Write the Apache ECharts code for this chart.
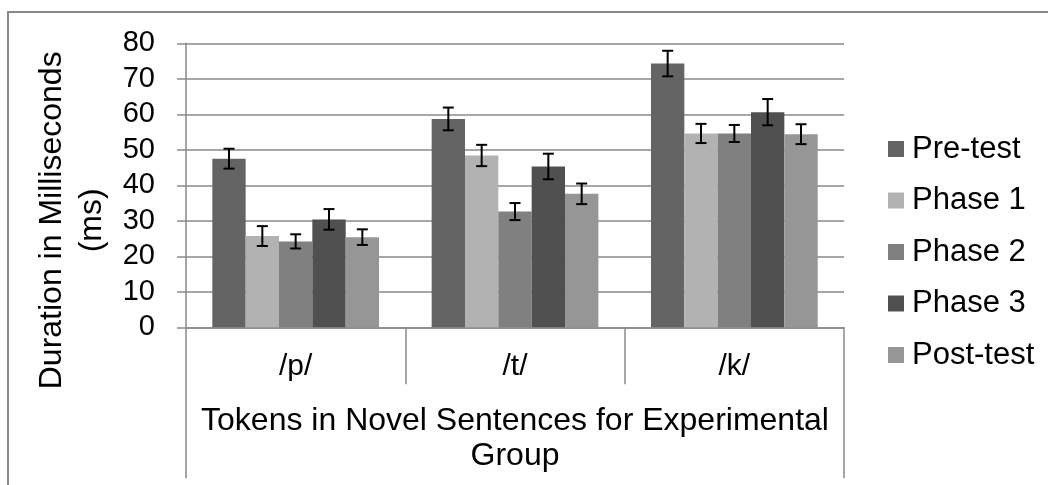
<!DOCTYPE html>
<html>
<head>
<meta charset="utf-8">
<script src="https://cdn.jsdelivr.net/npm/echarts@6/dist/echarts.min.js"></script>
<style>html,body{margin:0;padding:0;background:#fff}#c{width:1048px;height:485px}</style>
</head>
<body>
<div id="c"></div>
<script>
const categories = ['/p/', '/t/', '/k/'];
const groupLabel = ['Tokens in Novel Sentences for Experimental\nGroup'];
const seriesNames = ['Pre-test', 'Phase 1', 'Phase 2', 'Phase 3', 'Post-test'];
const preTest  = [47.5, 58.7, 74.3];
const phase1   = [25.7, 48.4, 54.6];
const phase2   = [24.2, 32.6, 54.6];
const phase3   = [30.4, 45.3, 60.6];
const postTest = [25.4, 37.6, 54.4];
const preTestErr  = [2.8, 3.2, 3.6];
const phase1Err   = [2.8, 3.0, 2.7];
const phase2Err   = [2.0, 2.4, 2.4];
const phase3Err   = [2.9, 3.6, 3.7];
const postTestErr = [2.2, 2.9, 2.8];
const yTicks = [0, 10, 20, 30, 40, 50, 60, 70, 80];

const values = [preTest, phase1, phase2, phase3, postTest];
const errors = [preTestErr, phase1Err, phase2Err, phase3Err, postTestErr];
const colors = ['#646464', '#b2b2b2', '#808080', '#505050', '#969696'];
const FONT = "'Liberation Sans', Arial, Helvetica, sans-serif";
const GRID_COLOR = '#8a8a8a';
const CAT_GAP = 0.24;

const chart = echarts.init(document.getElementById('c'), null, {renderer: 'canvas'});

const series = [];
seriesNames.forEach((name, k) => {
  series.push({
    name: name,
    type: 'bar',
    data: values[k],
    itemStyle: {color: colors[k]},
    barGap: '0%',
    barCategoryGap: (CAT_GAP * 100) + '%',
    z: 2
  });
});
seriesNames.forEach((name, k) => {
  series.push({
    name: 'err-' + name,
    type: 'custom',
    xAxisIndex: 0,
    z: 5,
    data: values[k].map((v, i) => [i, v - errors[k][i], v + errors[k][i]]),
    renderItem: function (params, api) {
      const ci = api.value(0);
      const lo = api.value(1), hi = api.value(2);
      const bw = api.size([1, 0])[0] * (1 - CAT_GAP) / seriesNames.length;
      const off = (k - (seriesNames.length - 1) / 2) * bw;
      const pTop = api.coord([ci, hi]);
      const pBot = api.coord([ci, lo]);
      const x = pTop[0] + off;
      const cap = 5.5;
      const style = {stroke: '#000', lineWidth: 2};
      return {
        type: 'group',
        children: [
          {type: 'line', shape: {x1: x, y1: pTop[1], x2: x, y2: pBot[1]}, style: style},
          {type: 'line', shape: {x1: x - cap, y1: pTop[1], x2: x + cap, y2: pTop[1]}, style: style},
          {type: 'line', shape: {x1: x - cap, y1: pBot[1], x2: x + cap, y2: pBot[1]}, style: style}
        ]
      };
    }
  });
});

chart.setOption({
  animation: false,
  backgroundColor: '#fff',
  textStyle: {fontFamily: FONT, color: '#000'},
  graphic: [{
    type: 'rect',
    shape: {x: 8, y: 12, width: 1200, height: 600},
    style: {fill: 'none', stroke: '#8a8a8a', lineWidth: 2},
    silent: true
  }],
  grid: {left: 186, right: 204, top: 43.3, bottom: 157.7, containLabel: false, outerBoundsMode: 'none'},
  legend: {
    data: seriesNames,
    orient: 'vertical',
    left: 888,
    top: 131,
    padding: 0,
    icon: 'rect',
    itemWidth: 16,
    itemHeight: 16,
    itemGap: 15.5,
    textStyle: {fontFamily: FONT, fontSize: 31, color: '#000', lineHeight: 36, padding: [0, 0, 0, 3]}
  },
  xAxis: [{
    type: 'category',
    data: categories,
    position: 'bottom',
    axisLine: {show: true, lineStyle: {color: GRID_COLOR, width: 1.5}},
    axisTick: {show: true, length: 57, alignWithLabel: false, lineStyle: {color: GRID_COLOR, width: 1.5}},
    axisLabel: {fontFamily: FONT, fontSize: 30, color: '#000', margin: 22, lineHeight: 34, interval: 0},
    splitLine: {show: false}
  }, {
    type: 'category',
    data: groupLabel,
    position: 'bottom',
    axisLine: {show: false},
    axisTick: {show: true, length: 151, alignWithLabel: false, lineStyle: {color: GRID_COLOR, width: 1.5}},
    axisLabel: {fontFamily: FONT, fontSize: 32, color: '#000', margin: 76, lineHeight: 35, interval: 0, align: 'center'},
    splitLine: {show: false}
  }],
  yAxis: {
    type: 'value',
    min: yTicks[0],
    max: yTicks[yTicks.length - 1],
    interval: yTicks[1] - yTicks[0],
    name: 'Duration in Milliseconds\n(ms)',
    nameLocation: 'middle',
    nameRotate: 90,
    nameGap: 68,
    nameTextStyle: {fontFamily: FONT, fontSize: 32, color: '#000', lineHeight: 40, padding: [0, 70, 0, 0]},
    axisLine: {show: true, lineStyle: {color: GRID_COLOR, width: 1.5}},
    axisTick: {show: true, length: 9, lineStyle: {color: GRID_COLOR, width: 1.5}},
    axisLabel: {fontFamily: FONT, fontSize: 29, color: '#000', margin: 31},
    splitLine: {show: true, lineStyle: {color: GRID_COLOR, width: 1.5}}
  },
  series: series
});
</script>
</body>
</html>
